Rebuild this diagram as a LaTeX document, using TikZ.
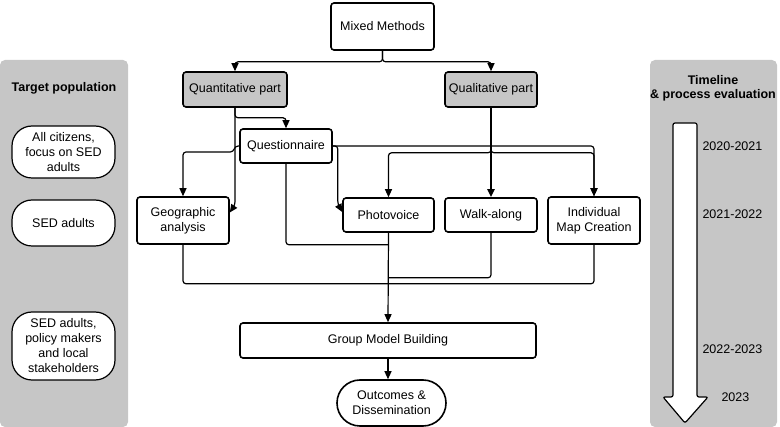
\documentclass[tikz,border=0pt]{standalone}
\usepackage{fontspec}
\setmainfont{Liberation Sans}
\usetikzlibrary{arrows.meta}

\definecolor{panelgray}{HTML}{C6C6C6}

\tikzset{
  box/.style={draw, line width=1.6pt, rounded corners=3pt, fill=white, align=center, inner sep=2pt},
  graybox/.style={box, fill=panelgray},
  pill/.style={draw, line width=1.2pt, rounded corners=20pt, fill=white, align=center, inner sep=2pt},
  arr/.style={line width=1.2pt, rounded corners=3pt, -{Triangle[length=8pt,width=7pt]}},
  lnk/.style={line width=1.2pt, rounded corners=3pt},
  panel/.style={fill=panelgray, rounded corners=5pt},
  title/.style={font=\fontsize{12.5}{15}\selectfont\bfseries, align=center}
}

\begin{document}
\begin{tikzpicture}[x=1pt, y=-1pt, font=\fontsize{12.5}{15}\selectfont]
\useasboundingbox (0,0) rectangle (780,427);

% side panels
\fill[panel] (0,60) rectangle (128,427);
\fill[panel] (650,60) rectangle (777,427);
\node[title] (poptitle) at (64,88) {Target population};
\node[title] (timetitle) at (713,88) {Timeline\\[-1pt]\& process evaluation};

% target population
\node[pill, minimum width=103, minimum height=52] (pop1) at (63.5,152) {All citizens,\\focus on SED\\adults};
\node[pill, minimum width=103, minimum height=46] (pop2) at (63.5,223) {SED adults};
\node[pill, minimum width=103, minimum height=68] (pop3) at (63.5,346) {SED adults,\\policy makers\\and local\\stakeholders};

% timeline arrow
\draw[line width=1.2pt, fill=white, rounded corners=2pt] (673,123) -- (697,123) -- (697,397) -- (708,397)
  -- (685,423) -- (663,397) -- (673,397) -- cycle;
\node[anchor=west] (y1) at (699,146) {2020-2021};
\node[anchor=west] (y2) at (699,214) {2021-2022};
\node[anchor=west] (y3) at (699,349) {2022-2023};
\node[anchor=west] (y4) at (718,397) {2023};

% method boxes
\node[box, minimum width=103, minimum height=47] (mixed) at (382.5,26.5) {Mixed Methods};
\node[graybox, minimum width=104, minimum height=35] (quant) at (235,89.5) {Quantitative part};
\node[graybox, minimum width=92, minimum height=35] (qual) at (491,89.5) {Qualitative part};
\node[box, minimum width=92, minimum height=34] (quest) at (286,146) {Questionnaire};
\node[box, minimum width=92, minimum height=47] (geo) at (183,220.5) {Geographic\\analysis};
\node[box, minimum width=91, minimum height=34] (photo) at (388.5,215) {Photovoice};
\node[box, minimum width=92, minimum height=34] (walk) at (491,215) {Walk-along};
\node[box, minimum width=92, minimum height=47] (imc) at (594,220.5) {Individual\\Map Creation};
\node[box, minimum width=296, minimum height=35] (gmb) at (388,340.5) {Group Model Building};
\node[pill, line width=1.6pt, rounded corners=23pt, minimum width=109, minimum height=46] (out) at (391.5,403) {Outcomes \&\\Dissemination};

% connectors
\draw[arr] (mixed.south) -- ++(0,11) -| (quant.north);
\draw[arr] (mixed.south) -- ++(0,11) -| (qual.north);
\draw[arr] (quant.south) -- ++(0,10) -| (quest.north);
\draw[arr] (quant.south) -- ++(0,97) -- ([yshift=8pt]geo.east);
\draw[arr] (quest.west) -- ++(-4,0) -- ++(-2,6) -| (geo.north);
\draw[arr] (quest.east) -| (imc.north);
\draw[arr] (quest.east) -- ++(5,0) -- ++(0,58) -- ([yshift=3pt]photo.west);
\draw[arr, line width=2pt] (qual.south) -- (walk.north);
\draw[arr] (qual.south) -- ++(0,45) -| (photo.north);
\draw[arr] (qual.south) -- ++(0,45) -| (imc.north);
\draw[lnk] (quest.south) |- ([yshift=-12pt]photo.south);
\draw[lnk] (walk.south) |- ([yshift=-45pt]photo.south);
\draw[lnk] (geo.south) |- ([yshift=-39pt]imc.south) -- (imc.south);
\draw[arr] (photo.south) -- (gmb.north);
\draw[arr] (gmb.south) -- (gmb.south |- out.north);
\end{tikzpicture}
\end{document}
